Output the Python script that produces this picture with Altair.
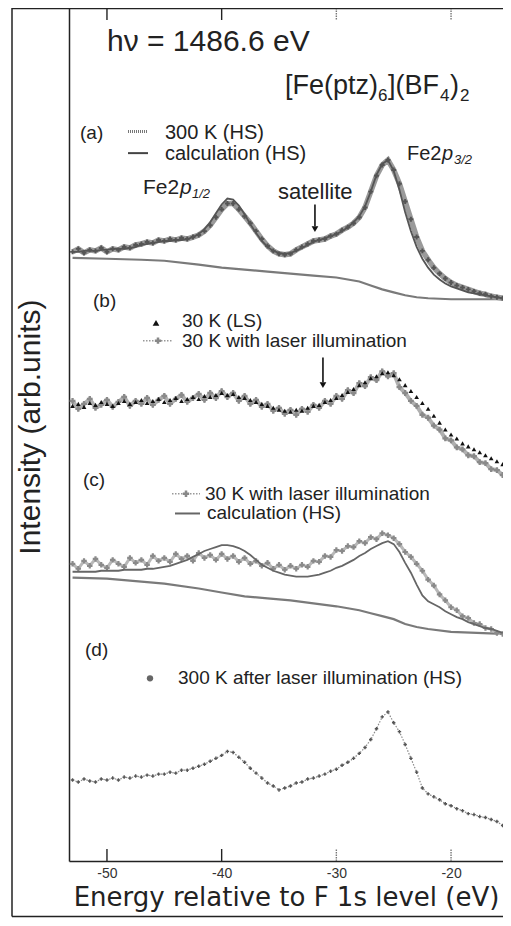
import altair as alt
import pandas as pd

# ---------------- data ----------------
energy = [-53.0, -52.5, -52.0, -51.5, -51.0, -50.5, -50.0, -49.5, -49.0, -48.5,
          -48.0, -47.5, -47.0, -46.5, -46.0, -45.5, -45.0, -44.5, -44.0, -43.5,
          -43.0, -42.5, -42.0, -41.5, -41.0, -40.5, -40.0, -39.5, -39.0, -38.5,
          -38.0, -37.5, -37.0, -36.5, -36.0, -35.5, -35.0, -34.5, -34.0, -33.5,
          -33.0, -32.5, -32.0, -31.5, -31.0, -30.5, -30.0, -29.5, -29.0, -28.5,
          -28.0, -27.5, -27.0, -26.5, -26.0, -25.5, -25.0, -24.5, -24.0, -23.5,
          -23.0, -22.5, -22.0, -21.5, -21.0, -20.5, -20.0, -19.5, -19.0, -18.5,
          -18.0, -17.5, -17.0, -16.5, -16.0, -15.5]

# (a) 300 K (HS) measured
hs_300k = [617, 620, 616, 619, 618, 621, 617, 620, 619, 622,
           621, 624, 625, 627, 626, 629, 628, 630, 629, 631,
           630, 632, 634, 638, 644, 652, 660, 666, 666, 660,
           653, 646, 638, 630, 623, 618, 615, 614, 615, 619,
           622, 625, 628, 629, 630, 633, 635, 639, 642, 646,
           652, 662, 678, 694, 705, 710, 700, 686, 668, 650,
           632, 618, 609, 601, 595, 590, 586, 583, 581, 579,
           577, 575, 574, 572, 571, 570]
# (a) calculation (HS)
calc_a = [617, 617, 618, 618, 618, 619, 619, 620, 620, 620,
          621, 622, 624, 625, 626, 627, 628, 628, 629, 629,
          630, 632, 635, 640, 647, 656, 665, 671, 670, 664,
          655, 645, 636, 628, 622, 618, 616, 615, 616, 618,
          621, 624, 627, 629, 631, 633, 635, 638, 642, 647,
          653, 663, 678, 695, 706, 710, 699, 680, 657, 638,
          622, 610, 601, 594, 589, 585, 582, 580, 578, 576,
          575, 574, 573, 572, 571, 570]
# background curves
bg_energy = [-53, -50, -47, -45, -42, -40, -38, -36, -34, -32, -30,
             -29, -28, -27, -26, -25, -24, -23, -22, -20, -15.5]
bg_a = [611, 610, 609, 608, 604, 601, 599, 597, 595, 593, 591,
        589, 587, 583, 579, 576, 573, 571, 570, 569, 569]
bg_c = [287, 286, 283, 281, 276, 272, 268, 266, 264, 261, 258,
        256, 254, 251, 248, 245, 240, 237, 235, 232, 230]
# (b) 30 K (LS)
ls_30k = [461, 463, 460, 464, 462, 465, 463, 461, 464, 466,
          463, 465, 467, 464, 466, 468, 465, 467, 469, 466,
          468, 470, 468, 471, 470, 472, 474, 472, 473, 470,
          469, 467, 465, 463, 461, 459, 457, 456, 455, 457,
          456, 459, 461, 462, 465, 467, 469, 472, 475, 478,
          482, 485, 489, 491, 494, 495, 492, 488, 482, 476,
          470, 464, 458, 451, 444, 437, 432, 428, 423, 420,
          417, 414, 411, 408, 405, 402]
# (b) 30 K with laser illumination
laser_b = [466, 458, 463, 468, 459, 462, 467, 460, 465, 470,
           461, 466, 463, 469, 462, 467, 471, 463, 468, 472,
           465, 469, 473, 467, 474, 469, 476, 470, 474, 466,
           471, 463, 467, 460, 463, 456, 459, 453, 457, 452,
           458, 455, 462, 459, 466, 463, 471, 468, 477, 474,
           484, 481, 490, 487, 496, 491, 494, 480, 474, 466,
           461, 452, 449, 441, 437, 428, 426, 419, 417, 411,
           410, 404, 403, 397, 396, 391]
# (c) 30 K with laser illumination
laser_c = [301, 296, 304, 299, 306, 300, 297, 305, 301, 298,
           307, 302, 305, 300, 309, 304, 307, 303, 311, 306,
           309, 304, 312, 307, 310, 305, 311, 306, 309, 303,
           307, 301, 304, 299, 302, 296, 300, 295, 299, 296,
           300, 298, 304, 303, 309, 308, 315, 314, 319, 318,
           324, 322, 328, 326, 332, 330, 327, 321, 313, 308,
           301, 294, 285, 279, 270, 264, 257, 254, 248, 246,
           241, 240, 236, 235, 231, 230]
# (c) calculation (HS)
calc_c = [293, 293, 293, 293, 293, 294, 294, 294, 294, 295,
          295, 295, 295, 296, 296, 297, 298, 299, 301, 303,
          305, 308, 311, 314, 316, 318, 320, 320, 319, 317,
          314, 310, 305, 300, 297, 294, 292, 290, 289, 288,
          288, 288, 289, 290, 292, 294, 297, 299, 302, 305,
          309, 312, 316, 319, 322, 324, 321, 313, 302, 292,
          280, 269, 263, 260, 257, 253, 250, 247, 245, 242,
          240, 238, 236, 235, 233, 231]
# (d) 300 K after laser illumination (HS)
after_300k = [82, 80, 83, 81, 80, 83, 82, 84, 82, 85,
              84, 86, 85, 87, 86, 88, 88, 90, 89, 92,
              92, 94, 96, 98, 101, 104, 107, 111, 110, 105,
              100, 94, 89, 84, 79, 76, 72, 74, 76, 79,
              80, 83, 84, 86, 88, 91, 93, 97, 100, 104,
              109, 115, 123, 134, 146, 151, 140, 131, 118, 104,
              90, 74, 68, 65, 62, 58, 56, 53, 51, 48,
              47, 45, 44, 42, 40, 36]

tick_values = [-50, -40, -30, -20]

# ---------------- layout / style ----------------
W, H = 434, 853
X_DOMAIN = [-53.31, -15.47]
Y_DOMAIN = [0, 864]
FONT = "Liberation Sans"
INK = "#222222"


def frame(xs, ys):
    return pd.DataFrame({"e": xs, "v": ys})


def px(xr):
    return xr - 69


def py(yr):
    return (yr - 3) * H / 864.0


def ev(xr):
    return -50 + (xr - 107) / 11.47


def iv(yr):
    return 867 - yr


x_axis = alt.Axis(values=tick_values, ticks=False, grid=False, domain=True,
                  domainColor=INK, domainWidth=1.5, labelFont=FONT,
                  labelFontSize=14, labelColor="#333333", labelPadding=5,
                  labelExpr="'-' + abs(datum.value)",
                  title="Energy relative to F 1s level (eV)", titleFont="DejaVu Sans",
                  titleFontSize=26, titleFontWeight="normal", titleColor=INK,
                  titlePadding=4)
y_axis = alt.Axis(ticks=False, labels=False, grid=False, domain=True,
                  domainColor=INK, domainWidth=1.5,
                  title="Intensity (arb.units)", titleFont=FONT,
                  titleFontSize=30, titleFontWeight="normal", titleColor=INK,
                  titleX=-39, titleY=py(427), titleAlign="center",
                  titleBaseline="middle", titleAngle=270)

X = alt.X("e:Q", scale=alt.Scale(domain=X_DOMAIN, nice=False, zero=False), axis=x_axis)
Y = alt.Y("v:Q", scale=alt.Scale(domain=Y_DOMAIN, nice=False, zero=False), axis=y_axis)

one = pd.DataFrame({"k": [0]})
layers = []


def line(d, color, width, dash=None):
    kw = dict(color=color, strokeWidth=width, interpolate="linear")
    if dash:
        kw["strokeDash"] = dash
    return alt.Chart(d).mark_line(**kw).encode(x=X, y=Y)


def pts(d, shape, color, size, opacity=1.0):
    return alt.Chart(d).mark_point(shape=shape, filled=True, color=color,
                                   size=size, opacity=opacity).encode(x=X, y=Y)


def text(t, xr, yr, size, italic=False, baseline="middle"):
    kw = dict(text=t, align="left", baseline=baseline, font=FONT,
              fontSize=size, color=INK)
    if italic:
        kw["fontStyle"] = "italic"
    return alt.Chart(one).mark_text(**kw).encode(x=alt.value(px(xr)), y=alt.value(py(yr)))


def seg(x1, x2, yr, color, width, dash=None):
    kw = dict(color=color, strokeWidth=width)
    if dash:
        kw["strokeDash"] = dash
    return alt.Chart(one).mark_rule(**kw).encode(
        x=alt.value(px(x1)), x2=alt.value(px(x2)), y=alt.value(py(yr)))


def sym(xr, yr, shape, color, size):
    return alt.Chart(one).mark_point(shape=shape, filled=True, color=color, size=size,
                                     opacity=1).encode(x=alt.value(px(xr)), y=alt.value(py(yr)))


# ---- panel (a)
da = frame(energy, hs_300k)
layers += [line(frame(bg_energy, bg_a), "#7a7a7a", 2.2),
           line(da, "#9a9a9a", 5.5),
           pts(da, "cross", "#555555", 24),
           line(frame(energy, calc_a), "#555555", 1.8)]
# ---- panel (b)
db = frame(energy, laser_b)
layers += [line(db, "#b0b0b0", 4),
           pts(db, "cross", "#8a8a8a", 34),
           pts(frame(energy, ls_30k), "triangle-up", "#111111", 22)]
# ---- panel (c)
dc = frame(energy, laser_c)
layers += [line(frame(bg_energy, bg_c), "#7a7a7a", 2.2),
           line(dc, "#b8b8b8", 3),
           pts(dc, "cross", "#8a8a8a", 30),
           line(frame(energy, calc_c), "#666666", 1.8)]
# ---- panel (d)
dd = frame(energy, after_300k)
layers += [line(dd, "#8a8a8a", 1.2, [1.5, 1.5]),
           pts(dd, "cross", "#555555", 12)]

# ---- arrows
arr_a = pd.DataFrame({"e": [ev(315)], "v": [iv(202)], "v2": [iv(224)]})
arr_b = pd.DataFrame({"e": [ev(323)], "v": [iv(357)], "v2": [iv(382)]})
for arr, head in ((arr_a, 227), (arr_b, 385)):
    layers.append(alt.Chart(arr).mark_rule(color="#111111", strokeWidth=1.6).encode(
        x=X, y=Y, y2="v2:Q"))
    hd = pd.DataFrame({"e": [arr["e"][0]], "v": [iv(head)]})
    layers.append(alt.Chart(hd).mark_point(shape="triangle-down", filled=True,
                                           color="#111111", size=45, opacity=1).encode(x=X, y=Y))

# ---- inward ticks (top and bottom)
tk_dark = pd.DataFrame({"e": tick_values[:2]})
tk_light = pd.DataFrame({"e": tick_values[2:]})
for tk, col, dash in ((tk_dark, INK, None), (tk_light, "#777777", [1.5, 1])):
    kw = dict(color=col, strokeWidth=1.4)
    if dash:
        kw["strokeDash"] = dash
    layers.append(alt.Chart(tk).mark_rule(**kw).encode(
        x=X, y=alt.value(H), y2=alt.value(H - 12)))
    layers.append(alt.Chart(tk).mark_rule(**kw).encode(
        x=X, y=alt.value(0), y2=alt.value(12)))

# ---- outer frame
FB = H + 55.5
layers.append(alt.Chart(one).mark_rule(color=INK, strokeWidth=1.5).encode(
    x=alt.value(-57), x2=alt.value(W), y=alt.value(0.5)))
layers.append(alt.Chart(one).mark_rule(color=INK, strokeWidth=1.5).encode(
    x=alt.value(-57), y=alt.value(0), y2=alt.value(FB)))
layers.append(alt.Chart(one).mark_rule(color=INK, strokeWidth=1.5).encode(
    x=alt.value(-57), x2=alt.value(W), y=alt.value(FB)))

# ---- annotations
layers += [
    text("h\u03bd = 1486.6 eV", 107, 47, 30, baseline="alphabetic"),
    text("[Fe(ptz)", 285, 90, 27, baseline="alphabetic"),
    text("6", 378, 97, 17, baseline="alphabetic"),
    text("](BF", 388, 90, 27, baseline="alphabetic"),
    text("4", 440, 97, 17, baseline="alphabetic"),
    text(")", 450, 90, 27, baseline="alphabetic"),
    text("2", 460, 97, 17, baseline="alphabetic"),
    # panel (a)
    text("(a)", 80, 130, 19),
    seg(128, 148, 128, "#777777", 3, [1, 1]),
    text("300 K (HS)", 165, 130, 20),
    seg(128, 148, 150, "#444444", 2),
    text("calculation (HS)", 165, 151, 20),
    text("Fe2", 143, 185, 21),
    text("p", 180, 185, 21, italic=True),
    text("1/2", 192, 191, 13, italic=True),
    text("Fe2", 407, 151, 20),
    text("p", 442, 151, 20, italic=True),
    text("3/2", 454, 157, 13, italic=True),
    text("satellite", 278, 189, 22),
    # panel (b)
    text("(b)", 93, 300, 19),
    sym(156, 322, "triangle-up", "#111111", 45),
    text("30 K (LS)", 182, 320, 19),
    seg(143, 173, 340, "#999999", 1.5, [1.5, 1.5]),
    sym(158, 340, "cross", "#888888", 40),
    text("30 K with laser illumination", 182, 340, 19),
    # panel (c)
    text("(c)", 83, 481, 19),
    seg(172, 200, 495, "#999999", 1.5, [1.5, 1.5]),
    sym(186, 495, "cross", "#888888", 40),
    text("30 K with laser illumination", 205, 495, 19),
    seg(175, 200, 515, "#666666", 2),
    text("calculation (HS)", 207, 515, 19),
    # panel (d)
    text("(d)", 85, 653, 19),
    sym(150, 682, "circle", "#666666", 40),
    text("300 K after laser illumination (HS)", 178, 682, 19),
]

chart = alt.layer(*layers).properties(
    width=W, height=H,
    padding={"left": 61, "top": 0, "right": 0, "bottom": 910 - H},
    autosize=alt.AutoSizeParams(type="none"),
    background="white",
).configure_view(strokeWidth=0)

chart.save("out.html", embed_options={"renderer": "svg", "actions": False})
